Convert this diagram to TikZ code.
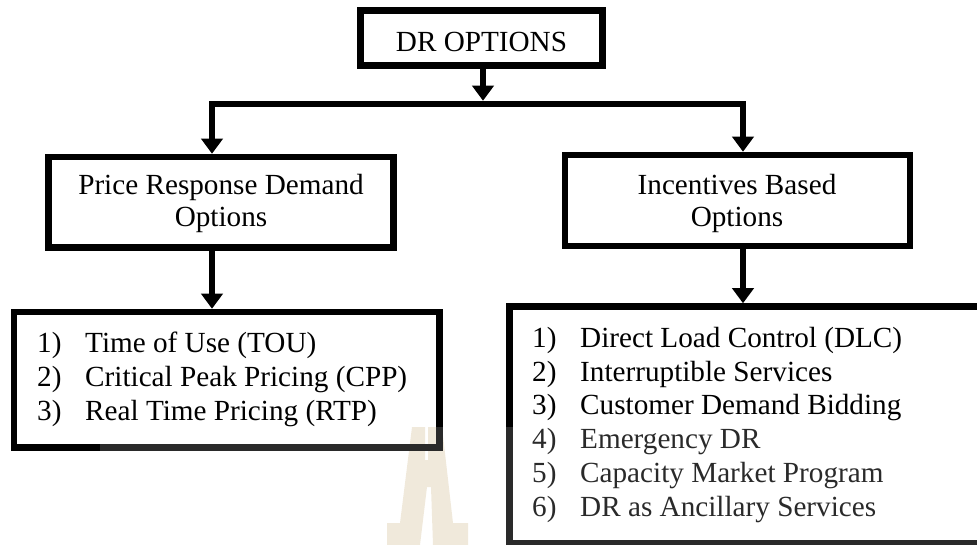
\documentclass[tikz,border=0pt]{standalone}
\usepackage{fontspec}
\setmainfont{Liberation Serif}
\usetikzlibrary{arrows.meta}
\definecolor{crest}{RGB}{238,229,213}
\tikzset{
  frame/.style={draw=black, line width=6.5pt, inner sep=0pt, outer sep=3.25pt, fill=none},
  conn/.style={line width=6.5pt, line join=miter, -{Triangle[width=21pt,length=15pt]}},
  txt/.style={font=\fontsize{29.2pt}{34pt}\selectfont, inner sep=0pt, anchor=base},
  item/.style={txt, anchor=base west},
}
\begin{document}
\begin{tikzpicture}[x=1pt, y=-1pt]
\useasboundingbox (0,0) rectangle (977,545);
\clip (0,0) rectangle (977,545);

% faint crest in the background
\fill[crest] (412,427) -- (425,427) -- (425,460) -- (428,460) -- (428,427) -- (442,427)
  -- (453,523) -- (468,523) -- (468,545) -- (433,545) -- (431,487) -- (427,487)
  -- (420,545) -- (387,545) -- (387,523) -- (400,523) -- cycle;

% boxes
\node[frame, minimum width=242pt, minimum height=55pt]   (dr) at (481.5,38) {};
\node[frame, minimum width=345pt, minimum height=90.5pt] (pr) at (221,202.25) {};
\node[frame, minimum width=345pt, minimum height=91pt]   (ib) at (737.5,200.5) {};
\node[frame, minimum width=425.5pt, minimum height=135.5pt] (pl) at (226.75,379.75) {};
\node[frame, minimum width=475.5pt, minimum height=237pt]   (il) at (747.25,425) {};

% box titles
\node[txt] (drt) at (481.5,52) {DR OPTIONS};
\node[txt] (prt1) at (221,195) {Price Response Demand};
\node[txt] (prt2) at (221,227) {Options};
\node[txt] (ibt1) at (737,195) {Incentives Based};
\node[txt] (ibt2) at (737,227) {Options};

% price based list
\node[item] (pn1) at (37,352) {1)}; \node[item] (pi1) at (85,352) {Time of Use (TOU)};
\node[item] (pn2) at (37,386) {2)}; \node[item] (pi2) at (85,386) {Critical Peak Pricing (CPP)};
\node[item] (pn3) at (37,420) {3)}; \node[item] (pi3) at (85,420) {Real Time Pricing (RTP)};

% incentive based list
\node[item] (in1) at (532,347) {1)}; \node[item] (ii1) at (580,347) {Direct Load Control (DLC)};
\node[item] (in2) at (532,381) {2)}; \node[item] (ii2) at (580,381) {Interruptible Services};
\node[item] (in3) at (532,414) {3)}; \node[item] (ii3) at (580,414) {Customer Demand Bidding};
\node[item] (in4) at (532,448) {4)}; \node[item] (ii4) at (580,448) {Emergency DR};
\node[item] (in5) at (532,482) {5)}; \node[item] (ii5) at (580,482) {Capacity Market Program};
\node[item] (in6) at (532,516) {6)}; \node[item] (ii6) at (580,516) {DR as Ancillary Services};

% connectors
\coordinate (hubT) at (483,100.75);
\coordinate (hubL) at (212,104);
\coordinate (hubR) at (743,104);
\draw[conn] (dr.south -| hubT) -- (hubT);
\draw[conn] (hubR) -- (hubL) -- (hubL |- pr.north);
\draw[conn] (hubL) -- (hubR) -- (hubR |- ib.north);
\draw[conn] (pr.south -| hubL) -- (pl.north -| hubL);
\draw[conn] (ib.south -| hubR) -- (il.north -| hubR);

% light wash over the lower part
\fill[white, opacity=0.165] (100,427) rectangle (977,545);
\end{tikzpicture}
\end{document}
